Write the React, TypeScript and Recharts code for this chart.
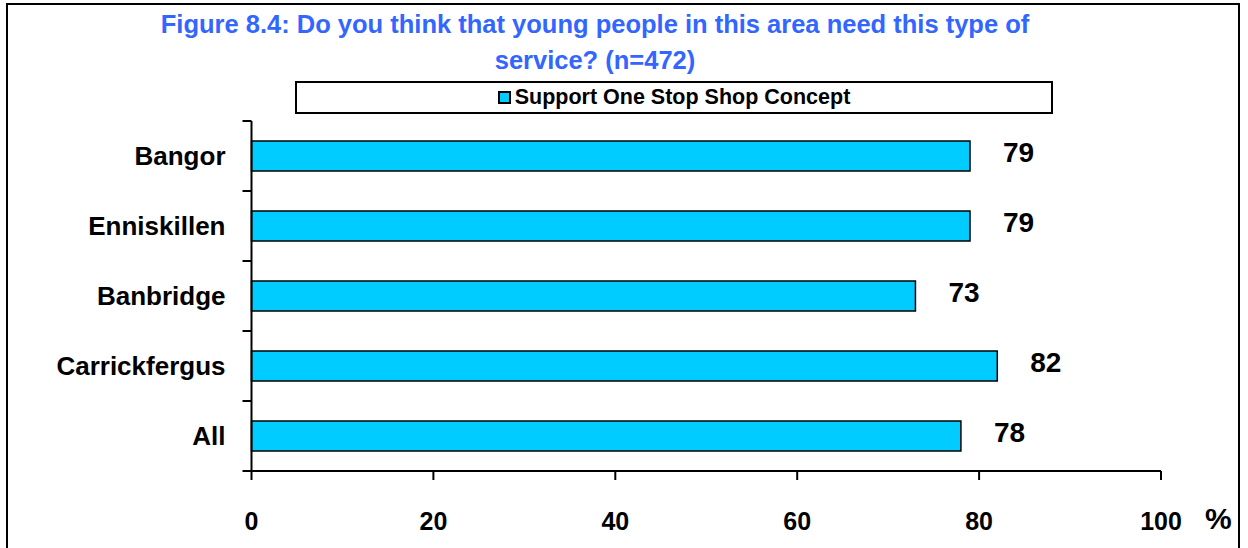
import { BarChart, Bar, XAxis, YAxis, Legend, LabelList, Label } from 'recharts';

// values
const towns = ['Bangor', 'Enniskillen', 'Banbridge', 'Carrickfergus', 'All'];
const supportPct = [79, 79, 73, 82, 78];
const xTicks = [0, 20, 40, 60, 80, 100];
const seriesName = 'Support One Stop Shop Concept';
const titleLines = [
  'Figure 8.4: Do you think that young people in this area need this type of',
  'service? (n=472)',
];

const data = towns.map((town, i) => ({ town, value: supportPct[i] }));

const FONT = "'Liberation Sans', Arial, sans-serif";
const CYAN = '#00CCFF';
const TITLE_BLUE = '#3366FF';
const Y_TICK = 9;
const Y_GAP = 17;

const LegendBox = () => (
  <div
    style={{
      display: 'flex',
      alignItems: 'center',
      justifyContent: 'center',
      height: '100%',
      fontFamily: FONT,
      fontWeight: 'bold',
      fontSize: 21.5,
      color: '#000',
    }}
  >
    <span
      style={{
        display: 'inline-block',
        width: 9,
        height: 9,
        background: CYAN,
        border: '2px solid #000',
        marginRight: 4,
      }}
    />
    <span>{seriesName}</span>
  </div>
);

// Excel style: tick marks sit between the categories, not on them
const TownTick = (props: any) => {
  const { x, y, payload, index } = props;
  const half = payload && payload.offset ? payload.offset : 35;
  const axisX = Number(x) + Y_TICK + Y_GAP;
  const last = index === towns.length - 1;
  return (
    <g>
      <line x1={axisX - Y_TICK} x2={axisX} y1={y - half} y2={y - half} stroke="#000" strokeWidth={2} />
      {last && <line x1={axisX - Y_TICK} x2={axisX} y1={y + half} y2={y + half} stroke="#000" strokeWidth={2} />}
      <text
        x={x}
        y={y}
        dy="0.355em"
        textAnchor="end"
        fontFamily={FONT}
        fontWeight="bold"
        fontSize={26}
        fill="#000"
      >
        {payload.value}
      </text>
    </g>
  );
};

const ValueLabel = (props: any) => {
  const { x, y, width, height, value } = props;
  return (
    <text
      x={Number(x) + Number(width) + 33}
      y={Number(y) + Number(height) / 2 - 4}
      dy="0.355em"
      textAnchor="start"
      fontFamily={FONT}
      fontWeight="bold"
      fontSize={28}
      fill="#000"
    >
      {value}
    </text>
  );
};

const PercentLabel = (props: any) => {
  const vb = props.viewBox;
  return (
    <text
      x={vb.x + vb.width + 44}
      y={vb.y + 58}
      textAnchor="start"
      fontFamily={FONT}
      fontWeight="bold"
      fontSize={30}
      fill="#000"
    >
      %
    </text>
  );
};

export default function App() {
  return (
    <div style={{ position: 'absolute', left: 0, top: 0, width: 1248, height: 548, overflow: 'hidden', background: '#fff' }}>
      <div
        style={{
          position: 'absolute',
          left: 6,
          top: 3,
          width: 1234,
          height: 570,
          border: '2px solid #000',
          boxSizing: 'border-box',
        }}
      />
      <div
        style={{
          position: 'absolute',
          left: 120,
          top: 6,
          width: 950,
          textAlign: 'center',
          fontFamily: FONT,
          fontWeight: 'bold',
          fontSize: 25.5,
          lineHeight: '36px',
          color: TITLE_BLUE,
        }}
      >
        {titleLines.map((line) => (
          <div key={line}>{line}</div>
        ))}
      </div>
      <BarChart
        width={1248}
        height={548}
        data={data}
        layout="vertical"
        margin={{ top: 121, right: 87, bottom: 0, left: 0 }}
        barSize={30}
        style={{ position: 'absolute', left: 0, top: 0 }}
      >
        <XAxis
          type="number"
          domain={[0, 100]}
          ticks={xTicks}
          height={77}
          axisLine={{ stroke: '#000', strokeWidth: 2 }}
          tickLine={{ stroke: '#000', strokeWidth: 2 }}
          tickSize={9}
          tickMargin={32}
          tick={{ fill: '#000', fontSize: 25, fontWeight: 'bold', fontFamily: FONT }}
        >
          <Label content={PercentLabel} />
        </XAxis>
        <YAxis
          type="category"
          dataKey="town"
          width={251.5}
          axisLine={{ stroke: '#000', strokeWidth: 2 }}
          tickLine={false}
          tickSize={Y_TICK}
          tickMargin={Y_GAP}
          tick={<TownTick />}
        />
        <Legend
          layout="horizontal"
          verticalAlign="middle"
          align="center"
          width={758}
          height={33}
          content={LegendBox}
          wrapperStyle={{
            top: 81,
            left: 295,
            width: 758,
            height: 33,
            border: '2px solid #000',
            boxSizing: 'border-box',
            background: '#fff',
          }}
        />
        <Bar
          dataKey="value"
          name={seriesName}
          fill={CYAN}
          stroke="#000"
          strokeWidth={1.5}
          isAnimationActive={false}
        >
          <LabelList dataKey="value" content={ValueLabel} />
        </Bar>
      </BarChart>
    </div>
  );
}
